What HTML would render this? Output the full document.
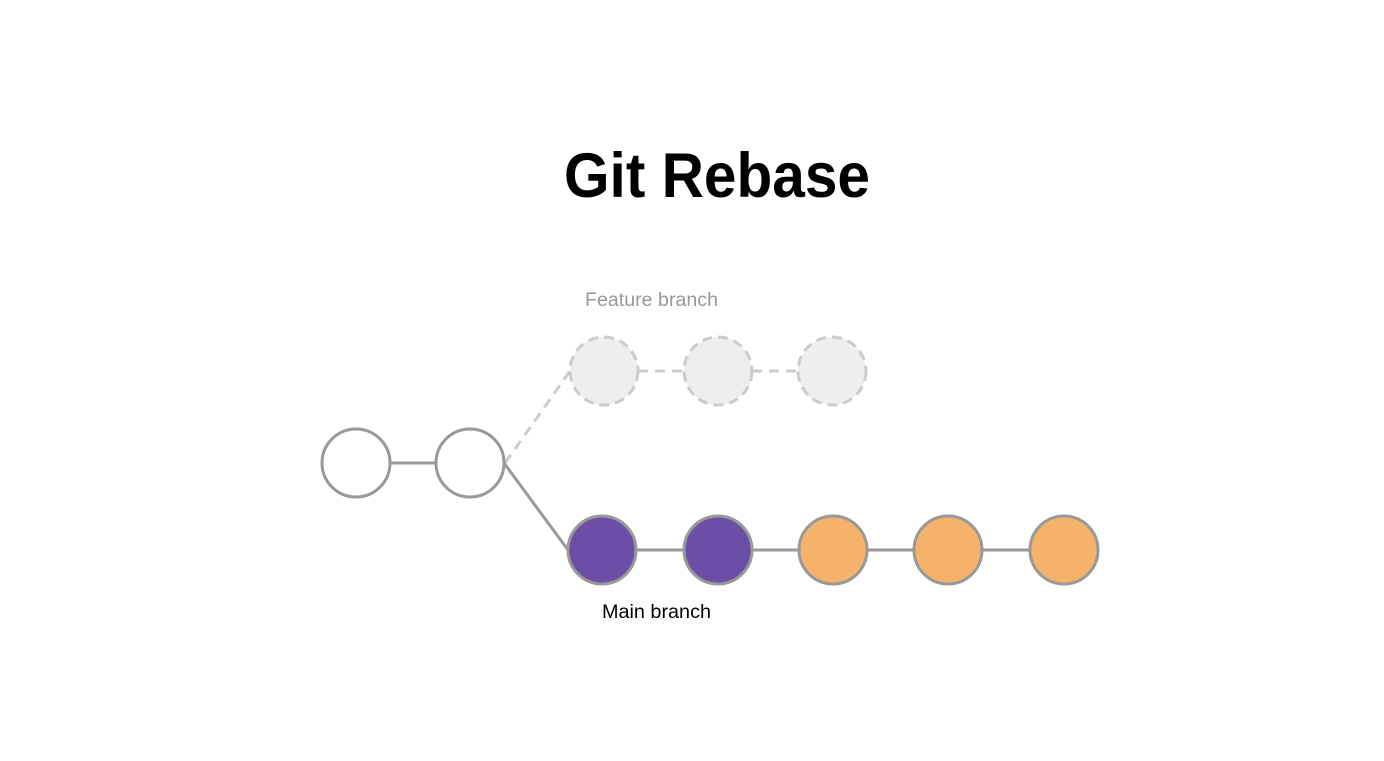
<!DOCTYPE html>
<html><head><meta charset="utf-8"><style>html,body{margin:0;padding:0;background:#fff;}svg{display:block}</style></head>
<body>
<svg width="1384" height="761" viewBox="0 0 1384 761" xmlns="http://www.w3.org/2000/svg">
<text x="717" y="197" text-anchor="middle" font-family="Liberation Sans, sans-serif" font-weight="bold" font-size="63" textLength="306" lengthAdjust="spacingAndGlyphs" fill="#000">Git Rebase</text>
<text x="585" y="306" font-family="Liberation Sans, sans-serif" font-size="19" fill="#999" textLength="133" lengthAdjust="spacingAndGlyphs">Feature branch</text>
<text x="602" y="618" font-family="Liberation Sans, sans-serif" font-size="19" fill="#000" textLength="109" lengthAdjust="spacingAndGlyphs">Main branch</text>
<g stroke="#ccc" stroke-width="3" stroke-dasharray="10,7" fill="none">
<line x1="505" y1="463" x2="570" y2="371"/>
<line x1="638" y1="371" x2="684" y2="371"/>
<line x1="752" y1="371" x2="798" y2="371"/>
</g>
<g stroke="#ccc" stroke-width="3" stroke-dasharray="10,6" fill="#eee">
<circle cx="604" cy="371" r="34"/><circle cx="718" cy="371" r="34"/><circle cx="832" cy="371" r="34"/>
</g>
<g stroke="#999" stroke-width="3" fill="none">
<line x1="390" y1="463" x2="436" y2="463"/>
<line x1="504" y1="463" x2="568" y2="550"/>
<line x1="636" y1="550" x2="1030" y2="550"/>
</g>
<g stroke="#999" stroke-width="3">
<circle cx="356" cy="463" r="34" fill="#fff"/><circle cx="470" cy="463" r="34" fill="#fff"/>
<circle cx="602" cy="550" r="34" fill="#6b4fa7"/><circle cx="718" cy="550" r="34" fill="#6b4fa7"/>
<circle cx="833" cy="550" r="34" fill="#f5b26b"/><circle cx="948" cy="550" r="34" fill="#f5b26b"/><circle cx="1064" cy="550" r="34" fill="#f5b26b"/>
</g>
</svg>
</body></html>
